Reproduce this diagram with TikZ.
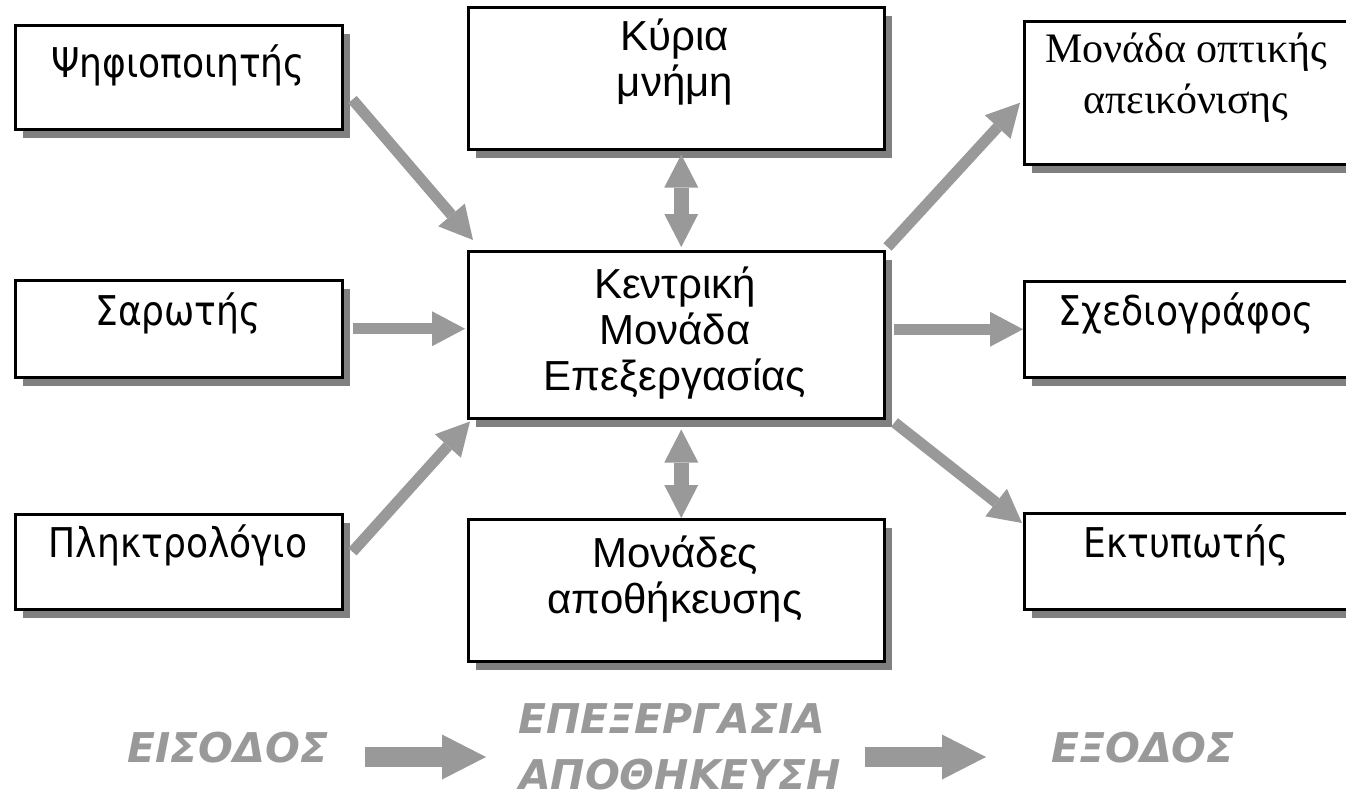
\documentclass[tikz,border=0pt]{standalone}
\usepackage{fontspec}
\setmainfont{Liberation Sans}
\newfontfamily\humfont{DejaVu Sans}[FakeStretch=0.88]
\newfontfamily\arsp{Liberation Sans}
\newfontfamily\serfont{Liberation Serif}
\newfontfamily\artfont{DejaVu Sans Bold Oblique}
\usetikzlibrary{arrows.meta,shadows,calc}
\definecolor{arrgray}{HTML}{999999}
\definecolor{shgray}{HTML}{808080}
\begin{document}
\begin{tikzpicture}[x=1pt,y=-1pt,
  box/.style={draw=black, line width=2.5pt, fill=white, anchor=north west, inner sep=0pt, rectangle,
     drop shadow={shadow xshift=8pt, shadow yshift=-9pt, fill=shgray, opacity=1}},
  hum/.style={anchor=base, inner sep=0pt, font=\humfont\fontsize{41}{48}\selectfont},
  ari/.style={anchor=base, inner sep=0pt, font=\arsp\fontsize{42}{48}\selectfont},
  ser/.style={anchor=base, inner sep=0pt, font=\serfont\fontsize{42}{48}\selectfont},
  art/.style={anchor=base, inner sep=0pt, text=arrgray, font=\artfont\fontsize{41}{48}\selectfont},
  conn/.style={draw=arrgray, line width=11pt, -{Triangle[length=33pt,width=35pt,line width=0pt]}},
  dconn/.style={draw=arrgray, line width=15pt, {Triangle[length=33pt,width=34pt,line width=0pt]}-{Triangle[length=33pt,width=34pt,line width=0pt]}},
  bigarr/.style={draw=arrgray, line width=20pt, -{Triangle[length=44pt,width=45pt,line width=0pt]}},
]
\useasboundingbox (0,0) rectangle (1346,795);

% boxes
\node[box, minimum width=327pt, minimum height=104pt] (psi) at (14,24) {};
\node[box, minimum width=327pt, minimum height=97pt] (saro) at (14,279) {};
\node[box, minimum width=327pt, minimum height=95pt] (plk) at (14,513) {};
\node[box, minimum width=416pt, minimum height=142pt] (kyr) at (467,6) {};
\node[box, minimum width=416pt, minimum height=167pt] (cpu) at (467,250) {};
\node[box, minimum width=416pt, minimum height=142pt] (mon) at (467,518) {};
\node[box, minimum width=340pt, minimum height=143pt] (opt) at (1023,20) {};
\node[box, minimum width=340pt, minimum height=96pt] (sxe) at (1023,280) {};
\node[box, minimum width=340pt, minimum height=96pt] (ekt) at (1023,512) {};

% texts
\node[hum] (tpsi) at (178,77) {Ψηφιοποιητής};
\node[hum] (tsaro) at (178,325) {Σαρωτής};
\node[hum] (tplk) at (178,557) {Πληκτρολόγιο};
\node[ari] (tkyr1) at (675,50) {Κύρια};
\node[ari] (tkyr2) at (675,96) {μνήμη};
\node[ari] (tcpu1) at (675,298) {Κεντρική};
\node[ari] (tcpu2) at (675,344) {Μονάδα};
\node[ari] (tcpu3) at (675,390) {Επεξεργασίας};
\node[ari] (tmon1) at (675,567) {Μονάδες};
\node[ari] (tmon2) at (675,613) {αποθήκευσης};
\node[ser] (topt1) at (1186,62) {Μονάδα οπτικής};
\node[ser] (topt2) at (1186,113) {απεικόνισης};
\node[hum] (tsxe) at (1186,325) {Σχεδιογράφος};
\node[hum] (tekt) at (1186,557) {Εκτυπωτής};

% connectors
\draw[conn] ($(psi.south east)+(9,-31)$) -- ($(cpu.north west)+(6,-10)$);
\draw[conn] ($(saro.east)+(9,0)$) -- ($(cpu.west |- saro.east)+(-2,0)$);
\draw[conn] ($(plk.east)+(9,-10)$) -- ($(cpu.south west)+(3,2)$);
\draw[dconn] ($(kyr.south)+(5,4)$) -- ($(cpu.north)+(5,-3)$);
\draw[dconn] ($(cpu.south)+(5,10)$) -- ($(mon.north)+(5,0)$);
\draw[conn] ($(cpu.north east)+(2,-3)$) -- ($(opt.west)+(-3,10)$);
\draw[conn] ($(cpu.east |- sxe.west)+(8,0)$) -- (sxe.west);
\draw[conn] ($(cpu.south east)+(9,3)$) -- ($(ekt.north west)+(-1,11)$);

% bottom flow
\node[art] (in) at (228,762) {ΕΙΣΟΔΟΣ};
\node[art] (proc1) at (672,733) {ΕΠΕΞΕΡΓΑΣΙΑ};
\node[art] (proc2) at (680,789) {ΑΠΟΘΗΚΕΥΣΗ};
\node[art] (out) at (1143,762) {ΕΞΟΔΟΣ};
\coordinate (b1s) at (365,757);
\coordinate (b1e) at (486,757);
\coordinate (b2s) at (865,757);
\coordinate (b2e) at (986,757);
\draw[bigarr] (b1s) -- (b1e);
\draw[bigarr] (b2s) -- (b2e);
\end{tikzpicture}
\end{document}
